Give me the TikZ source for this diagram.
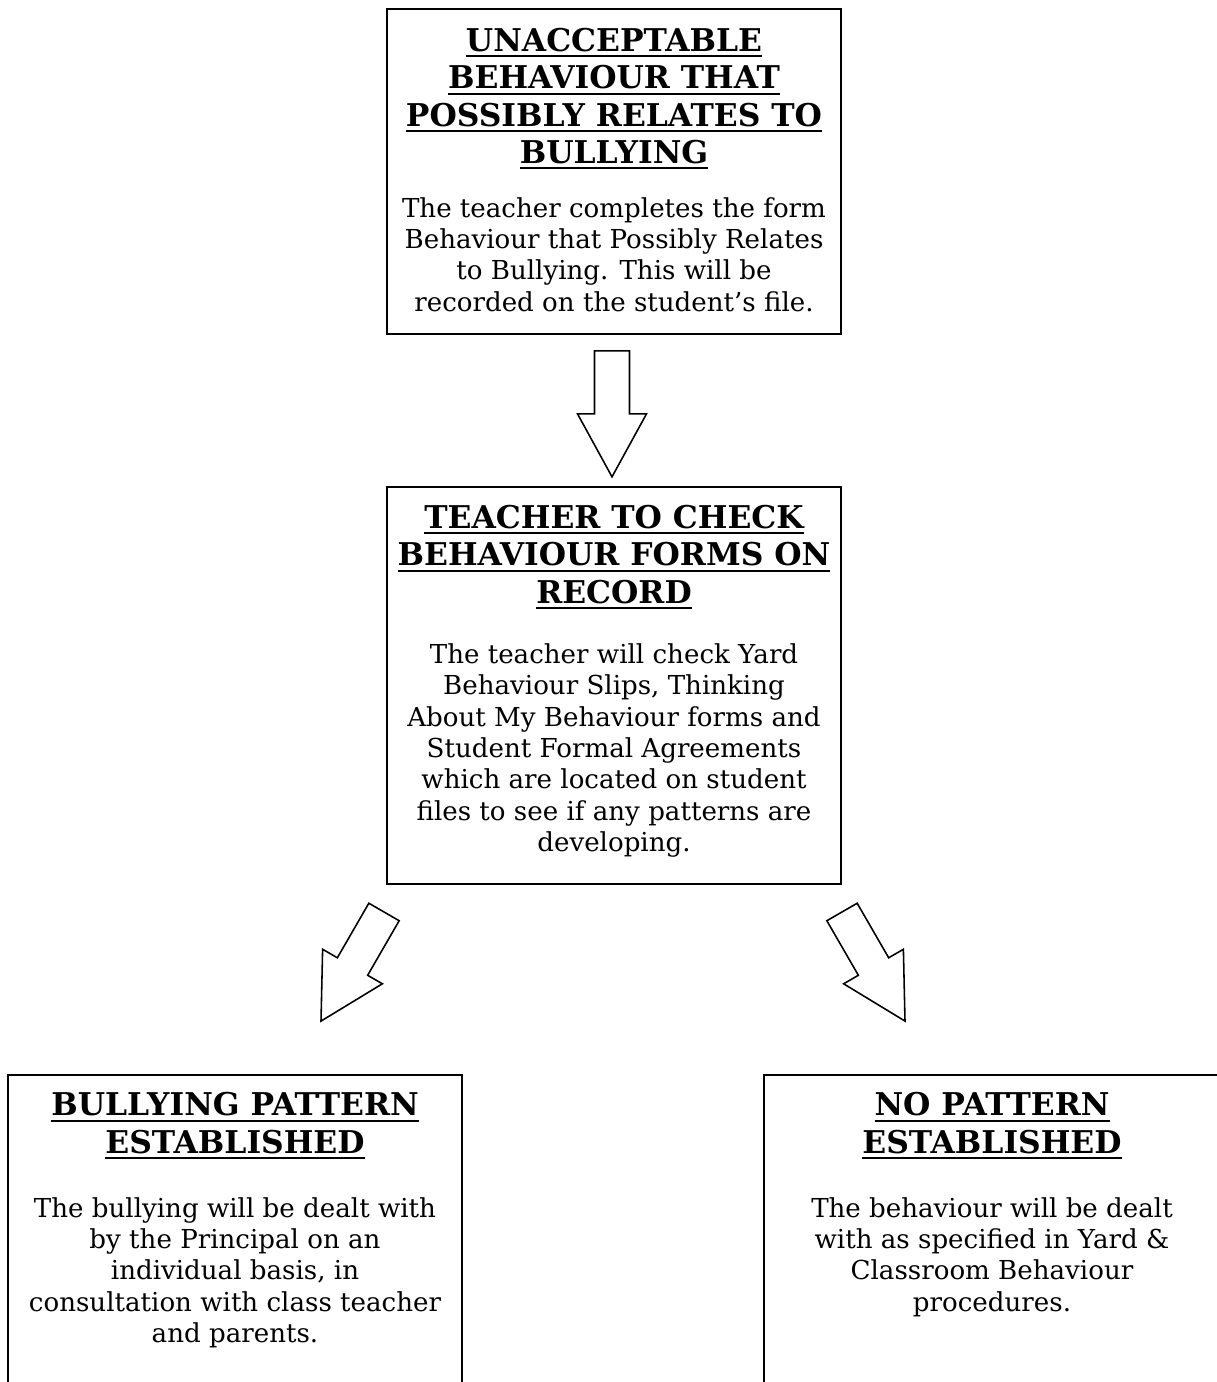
\documentclass[tikz,border=0pt]{standalone}
\usepackage{fontspec}
\setmainfont{DejaVu Serif}
\usepackage{tikz}

\newcommand{\headline}[1]{\leavevmode\setbox0\hbox{#1}\rlap{\rule[-2.6pt]{\wd0}{0.9pt}}\box0}

\begin{document}
\begin{tikzpicture}[x=0.4464pt, y=-0.4464pt,
    stagebox/.style={draw, line width=0.9pt, inner sep=0pt, anchor=north},
    blockarrow/.style={draw, line width=0.7pt, line join=miter}]
  \useasboundingbox (0,0) rectangle (1216,1382);

  \node[stagebox] (unacc) at (614,8) {\begin{minipage}[t][145pt][t]{202.7pt}\centering
      \vspace*{8.6pt}
      {\fontsize{14}{16.65}\selectfont\bfseries
      \headline{UNACCEPTABLE}\\ \headline{BEHAVIOUR THAT}\\
      \headline{POSSIBLY RELATES TO}\\ \headline{BULLYING}\par}
      \vspace{10pt}
      {\fontsize{11.65}{14}\selectfont
      The teacher completes the form\\ Behaviour that Possibly Relates\\
      to Bullying. This will be\\ recorded on the student's file.\par}
    \end{minipage}};

  \node[stagebox] (check) at (614,486) {\begin{minipage}[t][177.2pt][t]{202.7pt}\centering
      \vspace*{8.1pt}
      {\fontsize{14}{16.65}\selectfont\bfseries
      \headline{TEACHER TO CHECK}\\ \headline{BEHAVIOUR FORMS ON}\\
      \headline{RECORD}\par}
      \vspace{13pt}
      {\fontsize{11.65}{14}\selectfont
      The teacher will check Yard\\ Behaviour Slips, Thinking\\
      About My Behaviour forms and\\ Student Formal Agreements\\
      which are located on student\\ files to see if any patterns are\\
      developing.\par}
    \end{minipage}};

  \node[stagebox] (bully) at (235,1074) {\begin{minipage}[t][152pt][t]{202.7pt}\centering
      \vspace*{7.8pt}
      {\fontsize{14}{16.65}\selectfont\bfseries
      \headline{BULLYING PATTERN}\\ \headline{ESTABLISHED}\par}
      \vspace{14.6pt}
      {\fontsize{11.65}{14}\selectfont
      The bullying will be dealt with\\ by the Principal on an\\
      individual basis, in\\ consultation with class teacher\\
      and parents.\par}
    \end{minipage}};

  \node[stagebox] (nopat) at (992,1074) {\begin{minipage}[t][152pt][t]{203.6pt}\centering
      \vspace*{7.8pt}
      {\fontsize{14}{16.65}\selectfont\bfseries
      \headline{NO PATTERN}\\ \headline{ESTABLISHED}\par}
      \vspace{14.6pt}
      {\fontsize{11.65}{14}\selectfont
      The behaviour will be dealt\\ with as specified in Yard \&\\
      Classroom Behaviour\\ procedures.\par}
    \end{minipage}};

  % block arrows
  \foreach \from/\dx/\dy/\ang in {unacc/-2/16/0, check/-230/27/-30, check/228/27/30}{
    \draw[blockarrow, shift={(\from.south)}, shift={(\dx,\dy)}, rotate=\ang]
      (-17.5,0) -- (17.5,0) -- (17.5,63) -- (34.5,63) -- (0,126)
      -- (-34.5,63) -- (-17.5,63) -- cycle;
  }
\end{tikzpicture}
\end{document}
